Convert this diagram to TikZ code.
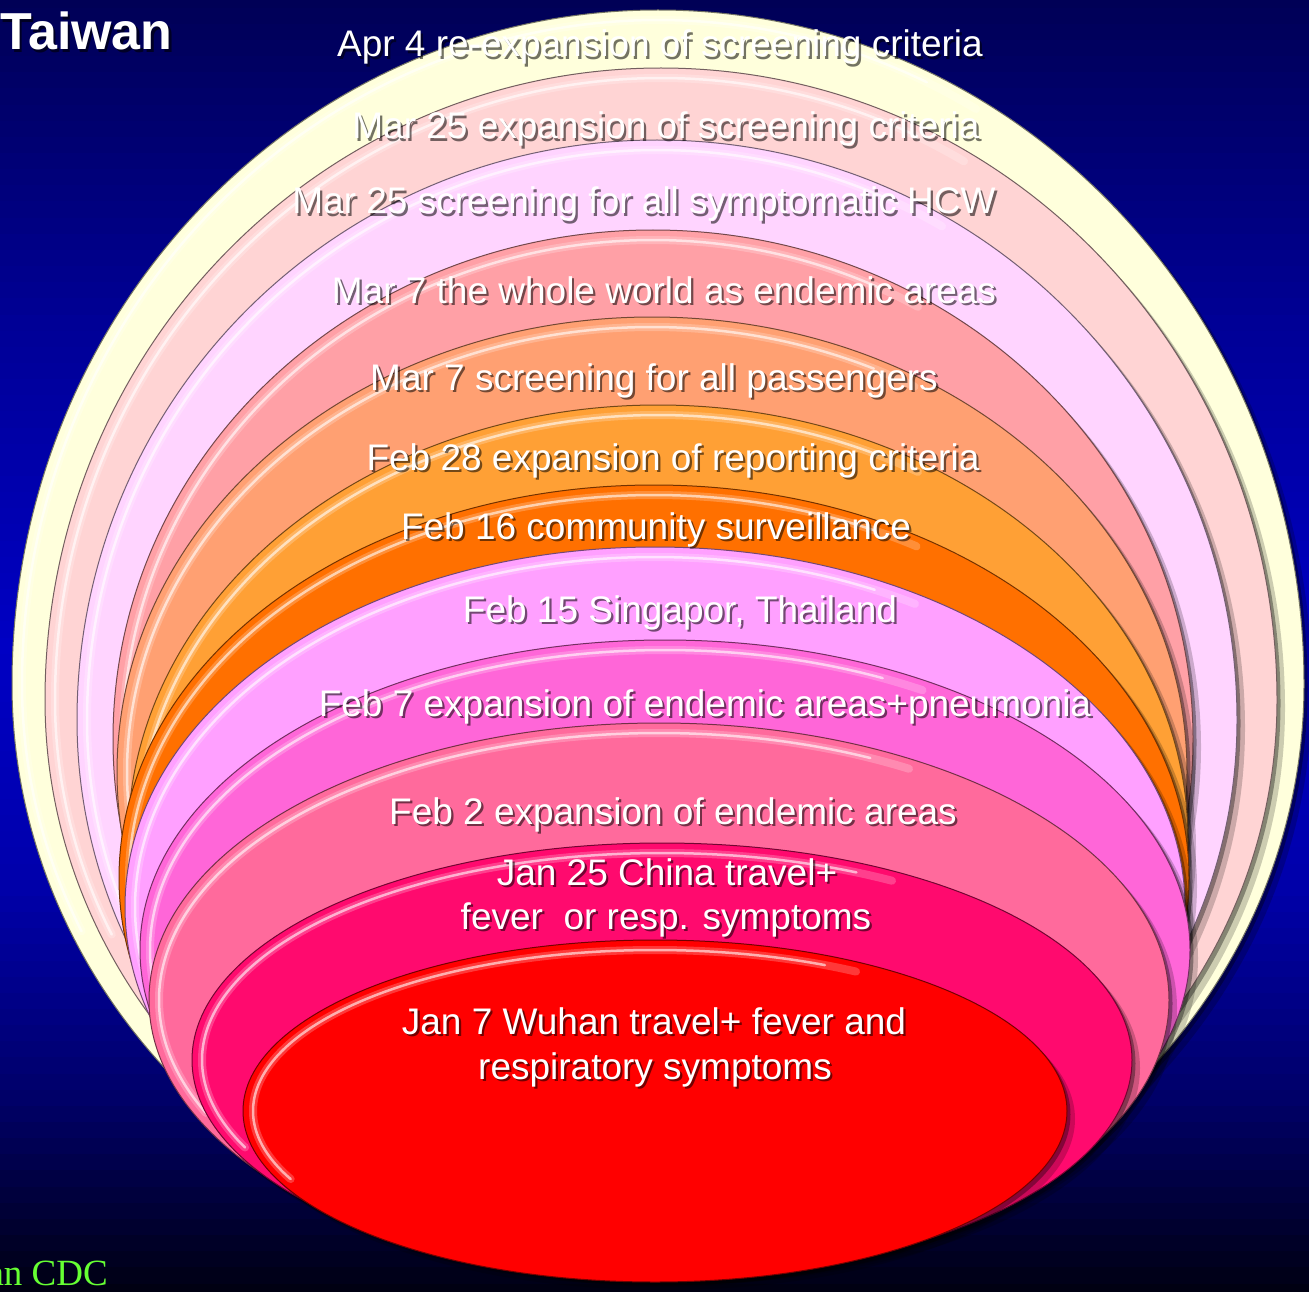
\documentclass[tikz,border=0pt]{standalone}
\usepackage{fontspec}
\setmainfont{Liberation Sans}
\newfontfamily\cdcfont{Liberation Serif}
\definecolor{cCream}{HTML}{FFFFDC}
\definecolor{cPale}{HTML}{FFD4D4}
\definecolor{cLav}{HTML}{FFD4FF}
\definecolor{cRose}{HTML}{FFA0A6}
\definecolor{cPeach}{HTML}{FFA072}
\definecolor{cLOrange}{HTML}{FFA035}
\definecolor{cDOrange}{HTML}{FF7000}
\definecolor{cViolet}{HTML}{FFA0FF}
\definecolor{cMagenta}{HTML}{FF66D8}
\definecolor{cPink}{HTML}{FF6A9C}
\definecolor{cHot}{HTML}{FF0A6E}
\definecolor{cRed}{HTML}{FF0000}
\definecolor{cdcGreen}{HTML}{66FF33}
% egg-shaped ring: cx, cy, rx, ry (top half), ry (bottom half), colour
\newcommand\bubble[6]{%
  \fill[black,opacity=0.2,shift={(8,8)}] (#1+#3,#2)
    arc[start angle=0,end angle=-180,x radius=#3,y radius=#4]
    arc[start angle=180,end angle=0,x radius=#3,y radius=#5] -- cycle;
  \fill[black,opacity=0.35,shift={(3.5,3.5)}] (#1+#3,#2)
    arc[start angle=0,end angle=-180,x radius=#3,y radius=#4]
    arc[start angle=180,end angle=0,x radius=#3,y radius=#5] -- cycle;
  \fill[#6] (#1+#3,#2)
    arc[start angle=0,end angle=-180,x radius=#3,y radius=#4]
    arc[start angle=180,end angle=0,x radius=#3,y radius=#5] -- cycle;
  \draw[#6!45!black,line width=1] (#1+#3,#2)
    arc[start angle=0,end angle=-180,x radius=#3,y radius=#4]
    arc[start angle=180,end angle=0,x radius=#3,y radius=#5] -- cycle;
  \draw[white,opacity=0.22,line width=8,line cap=round]
    ({#1+(#3-10)*cos(155)},{#2+(#5-10)*sin(155)})
    arc[start angle=155,end angle=180,x radius=#3-10,y radius=#5-10]
    arc[start angle=180,end angle=300,x radius=#3-10,y radius=#4-10];
  \draw[white,opacity=0.6,line width=2.5,line cap=round]
    ({#1+(#3-10)*cos(155)},{#2+(#5-10)*sin(155)})
    arc[start angle=155,end angle=180,x radius=#3-10,y radius=#5-10]
    arc[start angle=180,end angle=295,x radius=#3-10,y radius=#4-10];
}
\newcommand\lbltext[4]{%
  \node[lblsh] (#3s) at (#1+2.2,#2+2.2) {#4};
  \node[lbl] (#3) at (#1,#2) {#4};
}
\tikzset{
  lbl/.style={text=white,font=\fontsize{37}{44}\selectfont,inner sep=0pt,anchor=base},
  lblsh/.style={lbl,text=black,opacity=0.55}
}
\begin{document}
\begin{tikzpicture}[x=1pt,y=-1pt]
\useasboundingbox (0,0) rectangle (1309,1292);
% background: vertical navy -> blue -> near black
\foreach \i in {0,...,80}{
  \pgfmathsetmacro\tt{\i/80}
  \pgfmathtruncatemacro\bb{\tt<0.25 ? 86+(150-86)*\tt/0.25 :
     (\tt<0.5 ? 150+(196-150)*(\tt-0.25)/0.25 :
     (\tt<0.68 ? 196-(196-172)*(\tt-0.5)/0.18 :
     (\tt<0.85 ? 172-(172-105)*(\tt-0.68)/0.17 : 105-(105-18)*(\tt-0.85)/0.15)))}
  \definecolor{bgtmp}{RGB}{0,0,\bb}
  \fill[bgtmp] (0,\i*16.15-8.5) rectangle (1309,\i*16.15+8.5);
}
% nested rings, outer to inner
\bubble{658}{684}{646}{674}{595}{cCream}
\bubble{661}{700}{616}{632}{565}{cPale}
\bubble{657}{720}{580}{580}{545}{cLav}
\bubble{653}{739}{540}{509}{509}{cRose}
\bubble{652}{772}{535}{455}{455}{cPeach}
\bubble{658}{840}{530}{435}{435}{cLOrange}
\bubble{654}{878}{535}{393}{393}{cDOrange}
\bubble{655}{907}{530}{360}{360}{cViolet}
\bubble{665}{950}{525}{310}{310}{cMagenta}
\bubble{659}{1000}{510}{277}{277}{cPink}
\bubble{662}{1060}{470}{217}{217}{cHot}
\bubble{655}{1111}{412}{171}{171}{cRed}
% labels
\lbltext{660}{57}{apr4}{Apr 4 re-expansion of screening criteria}
\lbltext{666}{139}{mar25a}{Mar 25 expansion of screening criteria}
\lbltext{644}{214}{mar25b}{Mar 25 screening for all symptomatic HCW}
\lbltext{664}{303}{mar7a}{Mar 7 the whole world as endemic areas}
\lbltext{654}{390}{mar7b}{Mar 7 screening for all passengers}
\lbltext{673}{470}{feb28}{Feb 28 expansion of reporting criteria}
\lbltext{656}{539}{feb16}{Feb 16 community surveillance}
\lbltext{680}{622}{feb15}{Feb 15 Singapor, Thailand}
\lbltext{705}{716}{feb7}{Feb 7 expansion of endemic areas+pneumonia}
\lbltext{673}{824}{feb2}{Feb 2 expansion of endemic areas}
\lbltext{667}{885}{jan25a}{Jan 25 China travel+}
\lbltext{666}{929}{jan25b}{fever\ \ or resp. symptoms}
\lbltext{654}{1034}{jan7a}{Jan 7 Wuhan travel+ fever and}
\lbltext{655}{1079}{jan7b}{respiratory symptoms}
% title
\node[text=black,opacity=0.6,font=\fontsize{52}{60}\selectfont\bfseries,inner sep=0pt,anchor=base west] (titles) at (2.5,52.5) {Taiwan};
\node[text=white,font=\fontsize{52}{60}\selectfont\bfseries,inner sep=0pt,anchor=base west] (title) at (0,50) {Taiwan};
% source
\begin{scope}
\clip (0,0) rectangle (1309,1292);
\node[text=cdcGreen,font=\cdcfont\fontsize{37}{44}\selectfont,inner sep=0pt,anchor=base east] (cdc) at (108,1285) {an CDC};
\end{scope}
\end{tikzpicture}
\end{document}
